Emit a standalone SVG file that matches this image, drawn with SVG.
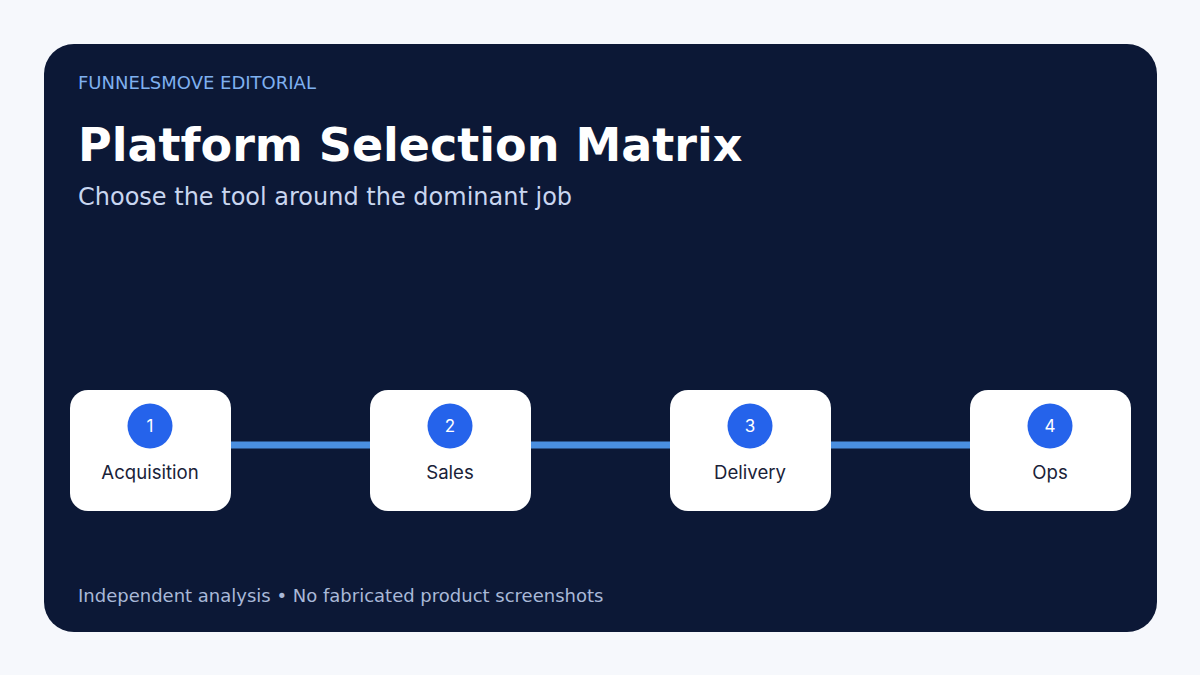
<svg xmlns="http://www.w3.org/2000/svg" width="1200" height="675" viewBox="0 0 1200 675">
<style>
.node rect{fill:#ffffff}
.node circle{fill:#2563eb}
.num{font-family:Inter,"DejaVu Sans",sans-serif;font-size:17px;fill:#ffffff;text-anchor:middle}
.lbl{font-family:Inter,"DejaVu Sans",sans-serif;font-size:18.6px;fill:#1a2238;text-anchor:middle}
.conn line{stroke:#4a8fe0;stroke-width:7}
</style>
<rect x="0" y="0" width="1200" height="675" fill="#f6f8fc"/>
<rect x="44" y="44" width="1113" height="588" rx="30" fill="#0c1836"/>
<text x="78" y="89" font-family="'DejaVu Sans',sans-serif" font-size="18" fill="#7fb0f0">FUNNELSMOVE EDITORIAL</text>
<text x="78" y="161" font-family="'DejaVu Sans',sans-serif" font-size="46" font-weight="bold" fill="#ffffff">Platform Selection Matrix</text>
<text x="78" y="205" font-family="'DejaVu Sans',sans-serif" font-size="24" fill="#c9d6f0">Choose the tool around the dominant job</text>
<text x="78" y="602" font-family="'DejaVu Sans',sans-serif" font-size="18" fill="#a9b8d8">Independent analysis • No fabricated product screenshots</text>
<g class="conn">
<line x1="230" y1="445" x2="370" y2="445"/>
<line x1="530" y1="445" x2="670" y2="445"/>
<line x1="830" y1="445" x2="970" y2="445"/>
</g>
<g id="node1" class="node"><rect x="70" y="390" width="161" height="121" rx="18"/><circle cx="150" cy="426" r="22.5"/><text class="num" x="150" y="432">1</text><text class="lbl" x="150" y="479">Acquisition</text></g>
<g id="node2" class="node"><rect x="370" y="390" width="161" height="121" rx="18"/><circle cx="450" cy="426" r="22.5"/><text class="num" x="450" y="432">2</text><text class="lbl" x="450" y="479">Sales</text></g>
<g id="node3" class="node"><rect x="670" y="390" width="161" height="121" rx="18"/><circle cx="750" cy="426" r="22.5"/><text class="num" x="750" y="432">3</text><text class="lbl" x="750" y="479">Delivery</text></g>
<g id="node4" class="node"><rect x="970" y="390" width="161" height="121" rx="18"/><circle cx="1050" cy="426" r="22.5"/><text class="num" x="1050" y="432">4</text><text class="lbl" x="1050" y="479">Ops</text></g>
</svg>
